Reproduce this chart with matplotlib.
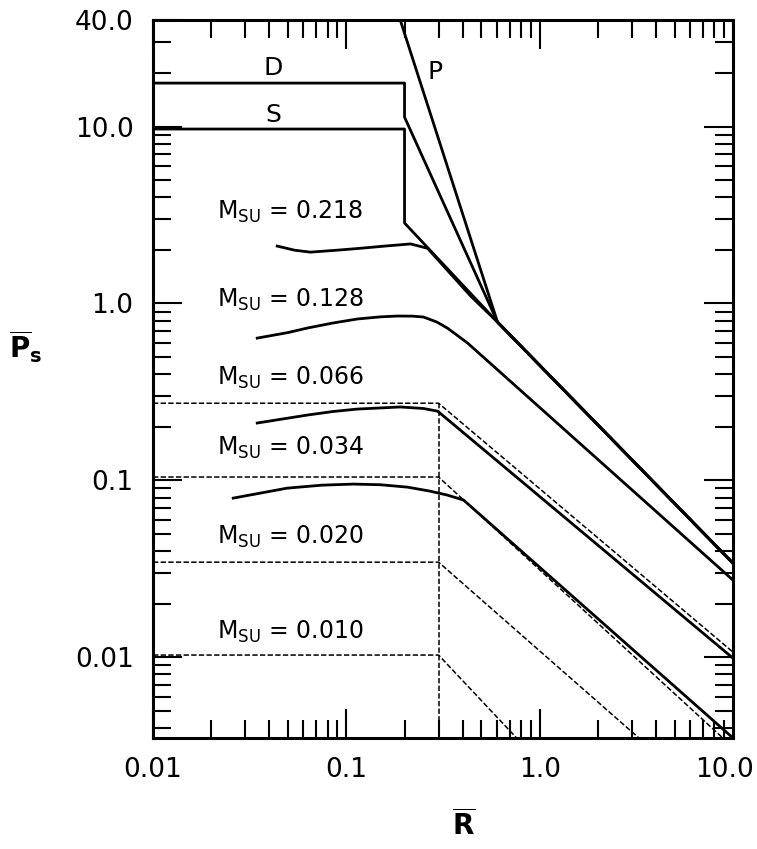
import matplotlib
matplotlib.use("Agg")
import matplotlib.pyplot as plt
import matplotlib.transforms as mtransforms
from matplotlib.ticker import LogLocator, FixedLocator, FixedFormatter, NullFormatter

plt.rcParams['font.family'] = 'DejaVu Sans'
plt.rcParams['mathtext.default'] = 'regular'

# --- data (R, Ps) ---
# D and S limits with the common P line
d_x = [0.01, 0.2, 0.2, 0.605, 10.0]
d_y = [17.6, 17.6, 11.3, 0.785, 0.034]
s_x = [0.01, 0.2, 0.2, 0.605, 10.0]
s_y = [9.68, 9.68, 2.85, 0.785, 0.034]
p_x = [0.19, 0.605, 10.0]
p_y = [40.0, 0.785, 0.034]

# solid curves for each M_SU
m218_x = [0.0439, 0.054, 0.065, 0.0894, 0.118, 0.158, 0.215, 0.263, 0.44, 0.605, 10.0]
m218_y = [2.11, 2.00, 1.95, 2.00, 2.05, 2.11, 2.17, 2.05, 1.10, 0.785, 0.034]
m128_x = [0.0346, 0.05, 0.0628, 0.085, 0.114, 0.15, 0.184, 0.22, 0.251, 0.294, 0.333, 0.375, 0.424, 10.0]
m128_y = [0.637, 0.685, 0.726, 0.775, 0.817, 0.840, 0.849, 0.848, 0.838, 0.785, 0.726, 0.66, 0.597, 0.0273]
m066_x = [0.0346, 0.0628, 0.085, 0.114, 0.19, 0.25, 0.297, 10.0]
m066_y = [0.211, 0.234, 0.245, 0.253, 0.26, 0.255, 0.246, 0.00989]
m034_x = [0.026, 0.0494, 0.075, 0.109, 0.15, 0.207, 0.27, 0.333, 0.404, 10.0]
m034_y = [0.0794, 0.0904, 0.094, 0.0953, 0.0945, 0.0916, 0.087, 0.0826, 0.0774, 0.0035]

# dashed bounds: level, knee at R=0.3, end point
dash_x = [[0.01, 0.3, 10.0],
          [0.01, 0.3, 10.0],
          [0.01, 0.3, 3.26],
          [0.01, 0.3, 0.76]]
dash_y = [[0.273, 0.273, 0.0107],
          [0.1045, 0.1045, 0.0031],
          [0.0345, 0.0345, 0.0035],
          [0.0103, 0.0103, 0.0035]]
vdash_x = [0.3, 0.3]
vdash_y = [0.273, 0.0035]

m_labels = ['0.218', '0.128', '0.066', '0.034', '0.020', '0.010']
m_label_y = [3.29, 1.045, 0.379, 0.152, 0.0478, 0.0139]

x_ticks = [0.01, 0.1, 1.0, 10.0]
x_ticklabels = ['0.01', '0.1', '1.0', '10.0']
y_ticks = [0.01, 0.1, 1.0, 10.0, 40.0]
y_ticklabels = ['0.01', '0.1', '1.0', '10.0', '40.0']

fig = plt.figure(figsize=(7.57, 8.49), dpi=100)
ax = fig.add_axes([153/757, 1-738/849, 580/757, 718/849])
ax.set_xscale('log')
ax.set_yscale('log')
ax.set_xlim(0.01, 10.0)
ax.set_ylim(0.0035, 40.0)

lw = 2.0
for xs, ys in [(d_x, d_y), (s_x, s_y), (p_x, p_y),
               (m218_x, m218_y), (m128_x, m128_y),
               (m066_x, m066_y), (m034_x, m034_y)]:
    ax.plot(xs, ys, color='black', lw=lw, solid_joinstyle='round')

for xs, ys in zip(dash_x, dash_y):
    ax.plot(xs, ys, color='black', lw=1.1, dashes=(3.5, 1.5))
ax.plot(vdash_x, vdash_y, color='black', lw=1.1, dashes=(3.5, 1.5))

for lab, yv in zip(m_labels, m_label_y):
    ax.text(0.0215, yv, r'$M_{SU}$ = ' + lab, fontsize=17, va='center', ha='left')

ax.text(0.0419, 21.4, 'D', fontsize=18, ha='center', va='center')
ax.text(0.0419, 11.6, 'S', fontsize=18, ha='center', va='center')
ax.text(0.289, 20.3, 'P', fontsize=18, ha='center', va='center')

ax.xaxis.set_major_locator(FixedLocator(x_ticks))
ax.xaxis.set_major_formatter(FixedFormatter(x_ticklabels))
ax.yaxis.set_major_locator(FixedLocator(y_ticks))
ax.yaxis.set_major_formatter(FixedFormatter(y_ticklabels))
for axis in [ax.xaxis, ax.yaxis]:
    axis.set_minor_locator(LogLocator(base=10, subs=range(2, 10)))
    axis.set_minor_formatter(NullFormatter())

ax.tick_params(which='both', direction='in', top=True, right=True, width=1.5)
ax.tick_params(which='major', length=21, labelsize=19, pad=14)
ax.tick_params(which='minor', length=13)
for sp in ax.spines.values():
    sp.set_linewidth(2.2)

ax.set_xlabel(r'$\overline{\mathbf{R}}$', fontsize=20)
ax.xaxis.set_label_coords(0.535, -0.1)
ax.set_ylabel(r'$\overline{\mathbf{P}}_{\mathbf{s}}$', fontsize=20, rotation=0)
ax.yaxis.set_label_coords(-0.22, 0.52)

# pull the last x label in so it stays inside the figure
fig.canvas.draw()
last = ax.get_xticklabels()[-1]
last.set_transform(last.get_transform() + mtransforms.ScaledTranslation(-9/100, 0, fig.dpi_scale_trans))

fig.savefig('out.png', dpi=100)
